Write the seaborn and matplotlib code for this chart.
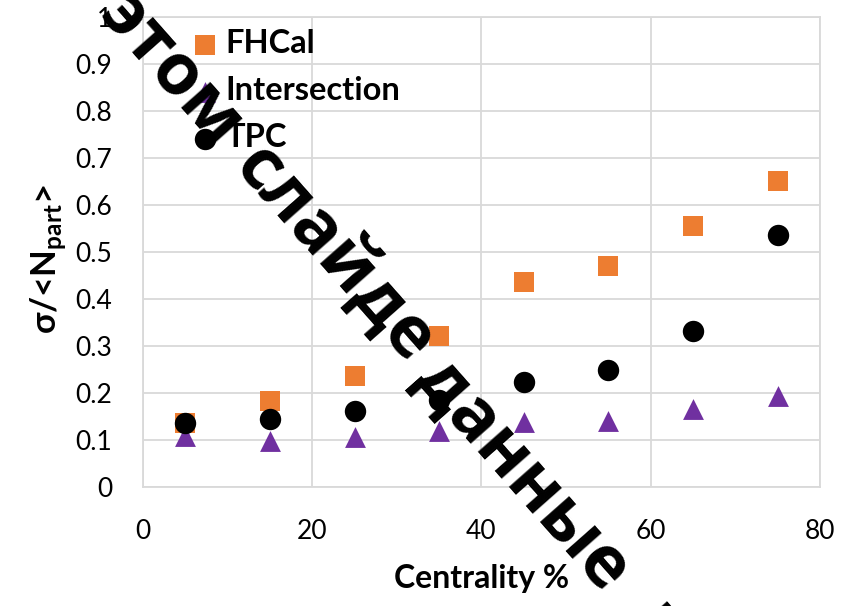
import matplotlib
matplotlib.use("Agg")
import matplotlib.pyplot as plt
import seaborn as sns
import pandas as pd

# Centrality classes (%) and relative width of the N_part distribution
centrality = [5, 15, 25, 35, 45, 55, 65, 75]
fhcal = [0.136, 0.182, 0.236, 0.322, 0.436, 0.471, 0.556, 0.652]
intersection = [0.108, 0.098, 0.107, 0.119, 0.138, 0.140, 0.166, 0.193]
tpc = [0.137, 0.145, 0.162, 0.185, 0.223, 0.248, 0.331, 0.537]

series_names = ["FHCal", "Intersection", "TPC"]
x_ticks = [0, 20, 40, 60, 80]
y_ticks = [0, 0.1, 0.2, 0.3, 0.4, 0.5, 0.6, 0.7, 0.8, 0.9, 1]
y_tick_labels = ["0", "0.1", "0.2", "0.3", "0.4", "0.5", "0.6", "0.7", "0.8", "0.9", "1"]

# Words of the diagonal overlay caption
caption_words = ["этом", "слайде", "данные", "не"]

sns.set_theme(style="whitegrid")
plt.rcParams["font.family"] = ["Lato", "DejaVu Sans"]
plt.rcParams["mathtext.fontset"] = "custom"
plt.rcParams["mathtext.rm"] = "Lato"
plt.rcParams["mathtext.bf"] = "Lato:bold"

grid_color = "#d9d9d9"
W, H = 844, 606

fig = plt.figure(figsize=(W / 100, H / 100), dpi=100)
fig.patch.set_facecolor("white")
ax = fig.add_axes([143 / W, 1 - 487 / H, (820 - 143) / W, (487 - 17) / H])
ax.set_facecolor("white")

frames = {
    "FHCal": fhcal,
    "Intersection": intersection,
    "TPC": tpc,
}
styles = {
    "FHCal": dict(marker="s", color="#ED7D31", s=13.7 ** 2),
    "Intersection": dict(marker="^", color="#7030A0", s=15.0 ** 2),
    "TPC": dict(marker="o", color="#000000", s=15.4 ** 2),
}

for name in series_names:
    df = pd.DataFrame({"Centrality": centrality, "value": frames[name]})
    st = styles[name]
    sns.scatterplot(data=df, x="Centrality", y="value", ax=ax,
                    marker=st["marker"], color=st["color"], s=st["s"],
                    linewidth=0, label=name, zorder=3, clip_on=False)

ax.set_xlim(0, 80)
ax.set_ylim(0, 1)
ax.set_xticks(x_ticks)
ax.set_yticks(y_ticks)
ax.set_yticklabels(y_tick_labels)
ax.tick_params(axis="both", length=0, labelsize=19, colors="black")
ax.tick_params(axis="y", pad=22)
ax.tick_params(axis="x", pad=23)
ax.grid(True, color=grid_color, linewidth=1.3)
for side, sp in ax.spines.items():
    sp.set_color(grid_color)
    sp.set_linewidth(1.3)

ax.set_xlabel("Centrality %", fontsize=23, fontweight="bold", color="black", va="baseline")
ax.xaxis.set_label_coords(0.5, (487 - 588) / 470)
ax.set_ylabel(r"σ/<N$_{\mathbf{part}}$>", fontsize=25, fontweight="bold", color="black", va="center")
ax.yaxis.set_label_coords((48 - 143) / 677, (487 - 259.5) / 470)

leg = ax.legend(loc="upper left", bbox_to_anchor=(0.0725, 0.974), frameon=False,
                fontsize=23.5, handlelength=0.8, handletextpad=0.22, labelspacing=0.55,
                borderaxespad=0, borderpad=0)
for t in leg.get_texts():
    t.set_fontweight("bold")
    t.set_color("black")

# Diagonal overlay caption, one word at a time along a -48.5 degree line
# (baseline centres in pixels from the top-left corner)
word_anchors = [(156, 84), (320, 268), (508, 488), (660, 660)]
for word, (px, py) in zip(caption_words, word_anchors):
    fig.text(px / W, 1 - py / H, word, rotation=-48.5,
             rotation_mode="anchor", ha="center", va="baseline", fontsize=51,
             fontweight="bold", color="black", family=["Open Sans", "DejaVu Sans"],
             zorder=10)

fig.savefig("out.png", dpi=100)
